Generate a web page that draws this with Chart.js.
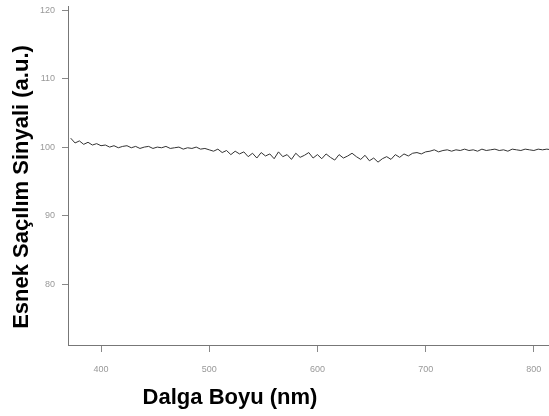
<!DOCTYPE html>
<html>
<head>
<meta charset="utf-8">
<script src="https://cdn.jsdelivr.net/npm/chart.js@4/dist/chart.umd.min.js"></script>
<style>
  html, body { margin: 0; padding: 0; background: #fff; }
  canvas { display: block; }
</style>
</head>
<body>
<canvas id="spektrum" width="549" height="416"></canvas>
<script>
// Esnek saçılım sinyali, 372-816 nm, 4 nm aralıklı okuma
const dalgaBaslangic = 372;
const dalgaAdim = 4;
const sinyal = [
    101.3, 100.6, 100.9, 100.4, 100.7, 100.3, 100.5, 100.2,
    100.3, 100.0, 100.2, 99.9, 100.1, 100.2, 99.9, 100.1, 99.8, 100.0,
    100.1, 99.8, 100.0, 99.9, 100.1, 99.8, 99.9, 100.0, 99.7, 99.9,
    99.8, 100.0, 99.7, 99.8, 99.6,
    99.4, 99.7, 99.2, 99.5, 98.9, 99.4, 99.0, 99.3, 98.6, 99.1,
    98.4, 99.2, 98.7, 99.0, 98.3, 99.3, 98.6, 98.9, 98.2, 99.1,
    98.5, 98.8, 99.2, 98.4, 98.9,
    98.3, 99.0, 98.5, 98.1, 98.9, 98.4, 98.7, 99.1, 98.6, 98.2,
    98.8, 98.0, 98.4, 97.8, 98.3, 98.6, 98.2, 98.9, 98.5, 99.0,
    98.7, 99.1, 99.2, 99.0, 99.3,
    99.4, 99.6, 99.3, 99.5, 99.6, 99.4, 99.6, 99.5, 99.7, 99.5,
    99.6, 99.4, 99.7, 99.5, 99.6, 99.7, 99.5, 99.6, 99.4, 99.7,
    99.6, 99.5, 99.7, 99.6, 99.5, 99.7, 99.6, 99.7, 99.6
];
const xTikler = [400, 500, 600, 700, 800];
const yTikler = [80, 90, 100, 110, 120];

const noktalar = sinyal.map((v, i) => ({ x: dalgaBaslangic + i * dalgaAdim, y: v }));

// Eksen başlıkları
const eksenBasliklari = {
    id: 'eksenBasliklari',
    afterDraw(chart) {
        const ctx = chart.ctx;
        ctx.save();
        ctx.fillStyle = '#000';
        ctx.font = 'bold 22px "Liberation Sans", Arial, sans-serif';
        ctx.textAlign = 'center';
        ctx.textBaseline = 'middle';
        ctx.fillText('Dalga Boyu (nm)', 230, 398);
        ctx.translate(22, 187);
        ctx.rotate(-Math.PI / 2);
        ctx.fillText('Esnek Saçılım Sinyali (a.u.)', 0, 0);
        ctx.restore();
    }
};

new Chart(document.getElementById('spektrum').getContext('2d'), {
    type: 'line',
    data: {
        datasets: [{
            data: noktalar,
            borderColor: '#333',
            borderWidth: 1,
            pointRadius: 0,
            tension: 0,
            fill: false
        }]
    },
    options: {
        responsive: false,
        animation: false,
        layout: { padding: { top: 6, right: 0, left: 0, bottom: 0 } },
        plugins: { legend: { display: false }, tooltip: { enabled: false } },
        scales: {
            x: {
                type: 'linear',
                min: 369.5,
                max: 814,
                afterBuildTicks: (scale) => { scale.ticks = xTikler.map(v => ({ value: v })); },
                afterFit: (scale) => {
                    scale.height = 71;
                    scale.paddingLeft = 0;
                    scale.paddingRight = 0;
                },
                grid: { drawOnChartArea: false, color: '#888', tickLength: 7 },
                border: { color: '#777', width: 1 },
                ticks: { color: '#999', font: { size: 9, family: 'Liberation Sans' }, padding: 12, maxRotation: 0 }
            },
            y: {
                min: 71.1,
                max: 120.6,
                afterBuildTicks: (scale) => { scale.ticks = yTikler.map(v => ({ value: v })); },
                afterFit: (scale) => {
                    scale.width = 68;
                    scale.paddingTop = 0;
                    scale.paddingBottom = 0;
                },
                grid: { drawOnChartArea: false, color: '#888', tickLength: 6 },
                border: { color: '#777', width: 1 },
                ticks: { color: '#999', font: { size: 9, family: 'Liberation Sans' }, padding: 7 }
            }
        }
    },
    plugins: [eksenBasliklari]
});
</script>
</body>
</html>
